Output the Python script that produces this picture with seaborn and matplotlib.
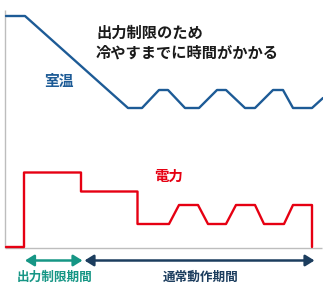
import matplotlib
matplotlib.use("Agg")
import matplotlib.pyplot as plt
import seaborn as sns
import pandas as pd

sns.set_theme(style="white")
plt.rcParams['font.family'] = ['Noto Sans CJK JP', 'DejaVu Sans']

# Room temperature curve (x position, y position in chart units; y grows downward)
temp_x = [6, 25, 128, 142, 159, 168, 185, 199, 217, 226, 245, 255, 273, 283, 293, 312, 323]
temp_y = [16, 16, 108, 108, 90, 90, 108, 108, 90, 90, 108, 108, 90, 90, 108, 108, 98]

# Power curve
power_x = [6, 24, 24, 81, 81, 137.5, 137.5, 169, 179, 198, 208, 226, 236, 255, 264, 284, 293, 312, 312]
power_y = [247, 247, 172.5, 172.5, 191.5, 191.5, 224, 224, 205, 205, 224, 224, 205, 205, 224, 224, 205, 205, 247]

label_temp = "室温"
label_power = "電力"
note_lines = ["出力制限のため", "冷やすまでに時間がかかる"]
period_limited = "出力制限期間"
period_normal = "通常動作期間"

BLUE = "#1d5b96"
RED = "#e60012"
TEAL = "#169685"
NAVY = "#1c3d5e"
GRAY = "#bdbdbd"

fig = plt.figure(figsize=(3.23, 2.86), dpi=100)
ax = fig.add_axes([0, 0, 1, 1])

# axes lines
ax.plot([5.3, 5.3], [10, 248], color=GRAY, lw=1.0, solid_capstyle="butt")
ax.plot([5.3, 322], [248, 248], color=GRAY, lw=1.0, solid_capstyle="butt")

df_t = pd.DataFrame({"x": temp_x, "y": temp_y})
df_p = pd.DataFrame({"x": power_x, "y": power_y})
sns.lineplot(data=df_t, x="x", y="y", sort=False, estimator=None, color=BLUE, lw=1.7, ax=ax)
sns.lineplot(data=df_p, x="x", y="y", sort=False, estimator=None, color=RED, lw=1.7, ax=ax)
ax.set_xlim(0, 323)
ax.set_ylim(286, 0)
ax.axis("off")

ax.text(96, 33, note_lines[0], fontsize=11.0, color="#1a1a1a", va="center", ha="left", fontweight="bold")
ax.text(96, 53, note_lines[1], fontsize=11.0, color="#1a1a1a", va="center", ha="left", fontweight="bold")
ax.text(59, 81, label_temp, fontsize=10.6, color=BLUE, va="center", ha="center", fontweight="bold")
ax.text(168.5, 177, label_power, fontsize=10.4, color=RED, va="center", ha="center", fontweight="bold")

ax.annotate("", xy=(25, 260.5), xytext=(82.5, 260.5),
            arrowprops=dict(arrowstyle="<|-|>,head_length=0.45,head_width=0.28", color=TEAL, lw=1.8, shrinkA=0, shrinkB=0))
ax.annotate("", xy=(84.5, 260.5), xytext=(314.5, 260.5),
            arrowprops=dict(arrowstyle="<|-|>,head_length=0.45,head_width=0.28", color=NAVY, lw=1.8, shrinkA=0, shrinkB=0))

ax.text(54.5, 277, period_limited, fontsize=9.1, color=TEAL, va="center", ha="center", fontweight="bold")
ax.text(200.5, 277, period_normal, fontsize=9.1, color=NAVY, va="center", ha="center", fontweight="bold")

fig.savefig("out.png", dpi=100)
